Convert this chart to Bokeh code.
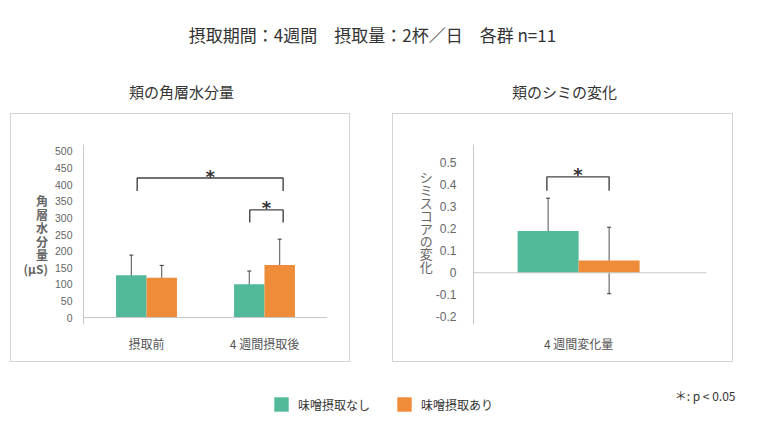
from bokeh.plotting import figure
from bokeh.models import (Range1d, FixedTicker, LinearAxis, Span, Whisker, ColumnDataSource,
                          Label, Legend, LegendItem, Spacer)
from bokeh.layouts import column, row
from bokeh.embed import file_html
from bokeh.resources import INLINE
from bokeh.core.properties import value

# ---------------- data ----------------
title_text = "摂取期間：4週間　摂取量：2杯／日　各群 n=11"
panel1_title = "頬の角層水分量"
panel2_title = "頬のシミの変化"
series_names = ["味噌摂取なし", "味噌摂取あり"]

cats1 = ["摂取前", "4 週間摂取後"]
moist_none = [127, 100]
moist_none_err = [61, 40]
moist_miso = [120, 158]
moist_miso_err = [37, 78]
y1_ticks = [0, 50, 100, 150, 200, 250, 300, 350, 400, 450, 500]
y1_label = "角\n層\n水\n分\n量\n(μS)"

cats2 = ["4 週間変化量"]
spot_none = [0.19]
spot_none_err = [0.149]
spot_miso = [0.056]
spot_miso_err = [0.151]
y2_ticks = [-0.2, -0.1, 0, 0.1, 0.2, 0.3, 0.4, 0.5]
y2_tick_labels = ["-0.2", "-0.1", "0", "0.1", "0.2", "0.3", "0.4", "0.5"]
y2_label = "シ\nミ\nス\nコ\nア\nの\n変\n化\n\u3000\n\u3000"

# significance brackets: (left x, right x, top y, leg bottom y)
sig1 = [(-0.079, 1.158, 420, 381), (0.875, 1.158, 324, 286)]
sig2 = [(-0.156, 0.150, 0.436, 0.373)]
note_text = "＊: p < 0.05"

GREEN = "#52B99A"
ORANGE = "#EF8C3A"
JP = "Noto Sans CJK JP"
NUM = "Liberation Sans"
OFF = 8  # page offset


def panel(width, height, borders, xr, yr, cats, a, ae, b, be, bw, yticks, ylabels,
          tick_size, tick_standoff, sig, star_lift, ylab, ylab_size, ylab_bold, ylab_standoff,
          ylab_lh):
    p = figure(width=width, height=height, x_range=Range1d(*xr), y_range=Range1d(*yr),
               output_backend="svg", toolbar_location=None,
               min_border_left=borders[0], min_border_right=borders[1],
               min_border_top=borders[2], min_border_bottom=borders[3],
               x_axis_type=None, y_axis_type=None)
    p.outline_line_color = None
    p.border_fill_color = "white"
    p.styles = {"border": "1px solid #d4d4d4", "box-sizing": "border-box"}
    idx = list(range(len(cats)))
    # y axis
    yax = LinearAxis(ticker=FixedTicker(ticks=yticks))
    yax.axis_line_color = "#c8c8c8"
    yax.major_tick_line_color = None
    yax.minor_tick_line_color = None
    yax.major_label_text_font = NUM
    yax.major_label_text_font_size = f"{tick_size}px"
    yax.major_label_text_color = "#666666"
    yax.major_label_standoff = tick_standoff
    if ylabels is not None:
        yax.major_label_overrides = {t: l for t, l in zip(yticks, ylabels)}
    yax.axis_label = ylab
    yax.axis_label_orientation = "horizontal"
    yax.axis_label_text_font = JP
    yax.axis_label_text_font_size = f"{ylab_size}px"
    yax.axis_label_text_font_style = "bold" if ylab_bold else "normal"
    yax.axis_label_text_color = "#666666"
    yax.axis_label_text_line_height = ylab_lh
    yax.axis_label_standoff = ylab_standoff
    p.add_layout(yax, "left")
    # x axis
    xax = LinearAxis(ticker=FixedTicker(ticks=idx))
    xax.major_label_overrides = {i: c for i, c in zip(idx, cats)}
    xax.axis_line_color = None
    xax.major_tick_line_color = None
    xax.minor_tick_line_color = None
    xax.major_label_text_font = JP
    xax.major_label_text_font_size = "12px"
    xax.major_label_text_color = "#555555"
    xax.major_label_standoff = 4
    p.add_layout(xax, "below")
    # grid
    p.ygrid.ticker = FixedTicker(ticks=yticks)
    p.ygrid.grid_line_color = "#dddddd"
    p.ygrid.grid_line_dash = "3 3"
    p.xgrid.visible = False
    p.add_layout(Span(location=0, dimension="width", line_color="#c8c8c8", line_width=1))
    # bars
    xa = [i - bw / 2 for i in idx]
    xb = [i + bw / 2 for i in idx]
    p.vbar(x=xa, top=a, width=bw, bottom=0, fill_color=GREEN, line_color=None)
    p.vbar(x=xb, top=b, width=bw, bottom=0, fill_color=ORANGE, line_color=None)
    for xs, v, e in ((xa, a, ae), (xb, b, be)):
        src = ColumnDataSource(dict(base=xs, upper=[m + d for m, d in zip(v, e)],
                                    lower=[m - d for m, d in zip(v, e)]))
        w = Whisker(base="base", upper="upper", lower="lower", source=src,
                    line_color="#333333", line_width=1, line_alpha=0.85)
        w.upper_head.size = 4
        w.lower_head.size = 4
        w.upper_head.line_color = "#333333"
        w.lower_head.line_color = "#333333"
        p.add_layout(w)
    # brackets
    p.multi_line(xs=[[s[0], s[0], s[1], s[1]] for s in sig],
                 ys=[[s[3], s[2], s[2], s[3]] for s in sig],
                 line_color="#444444", line_width=1.4)
    p.text(x=[(s[0] + s[1]) / 2 for s in sig], y=[s[2] + star_lift for s in sig],
           text=["*"] * len(sig), text_align="center", text_baseline="alphabetic",
           text_font=value("DejaVu Sans"), text_font_size="18px", text_font_style="bold",
           text_color="#333333")
    return p


# frames of both panels are aligned by the row
# panel 1: 118 px per category; ~0.332 px per unit
p1 = panel(340, 249, (72, 24, 30, 39), (-0.534, 1.534), (-21, 521), cats1,
           moist_none, moist_none_err, moist_miso, moist_miso_err, 0.258,
           y1_ticks, None, 10.5, 5, sig1, 6, y1_label, 12, True, 4, 0.8)

# panel 2: 203 px per category unit; ~220 px per unit
p2 = panel(341, 249, (80, 28, 30, 39), (-0.517, 0.629), (-0.235, 0.583), cats2,
           spot_none, spot_none_err, spot_miso, spot_miso_err, 0.30,
           y2_ticks, y2_tick_labels, 12, 11, sig2, 0.009, y2_label, 13, False, 0, 0.68)

# header
W = 758
HH = 105 + OFF
header = figure(width=W, height=HH, x_range=Range1d(0, W), y_range=Range1d(HH, 0),
                output_backend="svg", toolbar_location=None, min_border=0,
                x_axis_type=None, y_axis_type=None)
header.outline_line_color = None
header.grid.visible = False
header.add_layout(Label(x=364 + OFF, y=26 + OFF, text=title_text, text_align="center",
                        text_baseline="middle", text_font=JP, text_font_size="17px",
                        text_color="#333333"))
header.add_layout(Label(x=173 + OFF, y=83 + OFF, text=panel1_title, text_align="center",
                        text_baseline="middle", text_font=JP, text_font_size="15px",
                        text_color="#333333"))
header.add_layout(Label(x=556 + OFF, y=83 + OFF, text=panel2_title, text_align="center",
                        text_baseline="middle", text_font=JP, text_font_size="15px",
                        text_color="#333333"))

# footer with legend
footer = figure(width=W, height=60, x_range=Range1d(0, W), y_range=Range1d(60, 0),
                output_backend="svg", toolbar_location=None, min_border=0,
                x_axis_type=None, y_axis_type=None)
footer.outline_line_color = None
footer.grid.visible = False
r_a = footer.vbar(x=[-50], top=[0], bottom=[0], width=1, fill_color=GREEN, line_color=None)
r_b = footer.vbar(x=[-50], top=[0], bottom=[0], width=1, fill_color=ORANGE, line_color=None)
legend = Legend(items=[LegendItem(label=series_names[0], renderers=[r_a]),
                       LegendItem(label=series_names[1], renderers=[r_b])],
                orientation="horizontal", location=(264 + OFF, 9), padding=0, margin=0,
                spacing=25, glyph_width=18, glyph_height=18, label_height=18,
                label_standoff=8, border_line_color=None, background_fill_alpha=0,
                label_text_font=JP, label_text_font_size="12px", label_text_color="#333333")
footer.add_layout(legend)
footer.add_layout(Label(x=727 + OFF, y=33, text=note_text, text_align="right",
                        text_baseline="middle", text_font=JP, text_font_size="12px",
                        text_color="#333333"))

layout = column(header, row(Spacer(width=2 + OFF), p1, Spacer(width=42), p2), footer)
open("out.html", "w").write(file_html(layout, INLINE))
